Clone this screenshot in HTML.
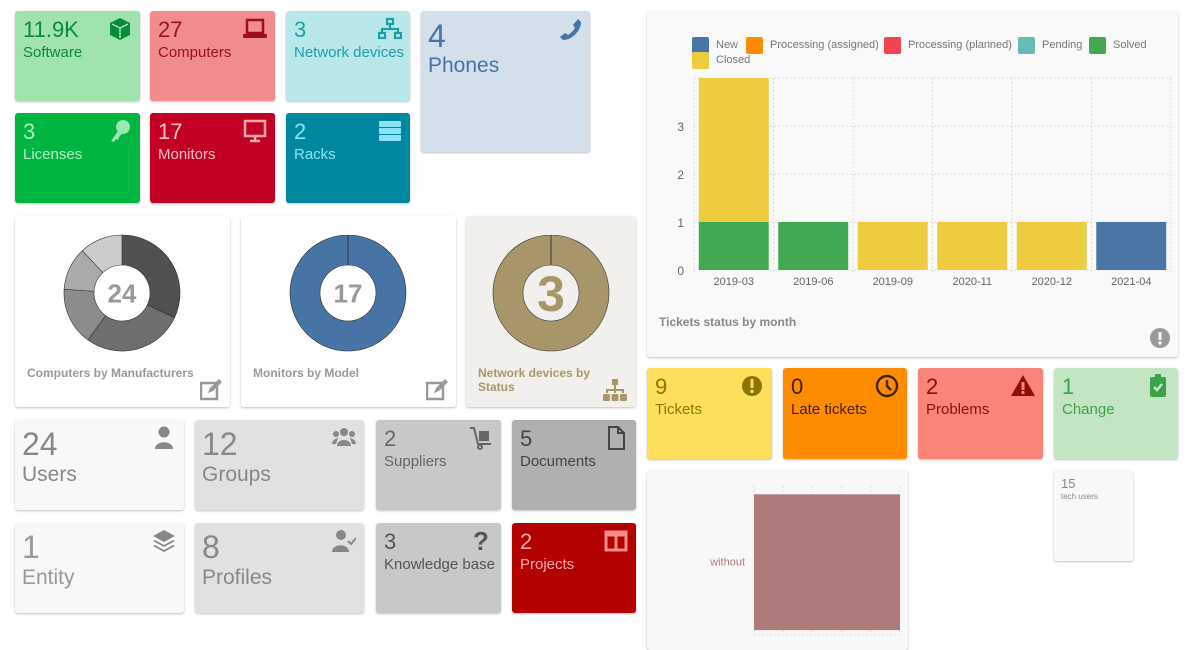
<!DOCTYPE html>
<html><head><meta charset="utf-8">
<style>
body{margin:0;width:1202px;height:636px;background:#fff;font-family:"Liberation Sans",Arial,sans-serif;position:relative;overflow:hidden}
.c{position:absolute;border-radius:3px;box-shadow:0 1px 2px rgba(0,0,0,.25);box-sizing:border-box;overflow:hidden}
.n{position:absolute;left:8px;top:6px;font-size:22px;line-height:26px}
.l{position:absolute;left:8px;top:33px;font-size:15px;line-height:18px}
.bn{position:absolute;left:7px;top:6px;font-size:32px;line-height:36px}
.bl{position:absolute;left:7px;top:43px;font-size:21px;line-height:24px}
.ic{position:absolute;right:8px;top:6px;width:24px;height:24px}
.dt{position:absolute;left:12px;font-size:12px;font-weight:bold;line-height:14px}
</style></head><body>
<!-- top tiles -->
<div class="c" style="left:15px;top:11px;width:125px;height:90px;background:#a1e3ae;color:#0b8a39">
<div class="n">11.9K</div><div class="l">Software</div>
<svg class="ic" viewBox="0 0 24 24"><path d="M12 1 22 6v12l-10 5-10-5V6z" fill="#0b8a39"/><path d="M4 7l8 4 8-4M12 11v10" stroke="#a1e3ae" stroke-width="1.5" fill="none"/></svg></div>
<div class="c" style="left:150px;top:11px;width:125px;height:90px;background:#f08c8c;color:#9e0e1e">
<div class="n">27</div><div class="l">Computers</div>
<svg class="ic" viewBox="0 0 24 24"><rect x="4" y="3" width="16" height="13" fill="none" stroke="#9e0e1e" stroke-width="2.5"/><rect x="0" y="17" width="24" height="4" rx="1" fill="#9e0e1e"/></svg></div>
<div class="c" style="left:286px;top:11px;width:124px;height:90px;background:#b8e8ea;color:#1e9ea7">
<div class="n">3</div><div class="l">Network devices</div>
<svg class="ic" viewBox="0 0 24 24" fill="none" stroke="#1e9ea7" stroke-width="2.2"><rect x="9" y="2" width="6" height="5"/><rect x="1" y="16" width="6" height="5"/><rect x="17" y="16" width="6" height="5"/><path d="M12 7v5M4 16v-4h16v4"/></svg></div>
<div class="c" style="left:421px;top:11px;width:169px;height:141px;background:#d3dfeb;color:#4773a5">
<div class="bn" style="font-size:32px;top:7px">4</div><div class="bl" style="top:43px">Phones</div>
<svg class="ic" viewBox="0 0 24 24"><path d="M20 2l3 3c0 9-9 18-18 18l-3-3 5-4 3 2c3-2 5-4 7-7l-2-3z" fill="#4773a5"/></svg></div>
<div class="c" style="left:15px;top:113px;width:125px;height:90px;background:#00b640;color:#b3f0c5">
<div class="n">3</div><div class="l">Licenses</div>
<svg class="ic" viewBox="0 0 24 24"><circle cx="15" cy="8" r="7" fill="#9be8b3"/><path d="M10 12 3 22l3 1 2-3 2 1 1-3 3-3z" fill="#9be8b3"/></svg></div>
<div class="c" style="left:150px;top:113px;width:125px;height:90px;background:#c10023;color:#f8c0c8">
<div class="n">17</div><div class="l">Monitors</div>
<svg class="ic" viewBox="0 0 24 24" fill="none" stroke="#f4a6b2" stroke-width="2.5"><rect x="2" y="2" width="20" height="15"/><path d="M12 17v4M7 22h10"/></svg></div>
<div class="c" style="left:286px;top:113px;width:124px;height:90px;background:#0088a1;color:#8ae3f5">
<div class="n">2</div><div class="l">Racks</div>
<svg class="ic" viewBox="0 0 24 24" fill="#8ae3f5"><rect x="1" y="2" width="22" height="6" rx="1"/><rect x="1" y="9" width="22" height="6" rx="1"/><rect x="1" y="16" width="22" height="6" rx="1"/></svg></div>

<!-- donut cards -->
<div class="c" style="left:15px;top:216px;width:215px;height:191px;background:#fff">
<svg width="215" height="191" id="d1"></svg>
<div class="dt" style="top:150px;color:#999">Computers by Manufacturers</div>
<svg style="position:absolute;right:8px;bottom:6px" width="22" height="22" viewBox="0 0 22 22"><rect x="1" y="4" width="16" height="16" fill="none" stroke="#999" stroke-width="2.5"/><path d="M8 14l2-5 9-9 3 3-9 9z" fill="#999"/></svg></div>
<div class="c" style="left:241px;top:216px;width:215px;height:191px;background:#fff">
<svg width="215" height="191" id="d2"></svg>
<div class="dt" style="top:150px;color:#999">Monitors by Model</div>
<svg style="position:absolute;right:8px;bottom:6px" width="22" height="22" viewBox="0 0 22 22"><rect x="1" y="4" width="16" height="16" fill="none" stroke="#999" stroke-width="2.5"/><path d="M8 14l2-5 9-9 3 3-9 9z" fill="#999"/></svg></div>
<div class="c" style="left:466px;top:216px;width:170px;height:191px;background:#f2f0ec">
<svg width="170" height="191" id="d3"></svg>
<div class="dt" style="top:150px;color:#a8966b">Network devices by<br>Status</div>
<svg style="position:absolute;right:8px;bottom:6px" width="26" height="22" viewBox="0 0 26 22" fill="#a8966b"><rect x="10" y="0" width="6" height="6"/><path d="M12 6h2v4h8v4h-2v-2H14v2h-2v-2H6v2H4v-4h8z"/><rect x="1" y="15" width="7" height="7" rx="1"/><rect x="9.5" y="15" width="7" height="7" rx="1"/><rect x="18" y="15" width="7" height="7" rx="1"/></svg></div>

<!-- bottom-left tiles -->
<div class="c" style="left:15px;top:420px;width:169px;height:90px;background:#f8f8f8;color:#888">
<div class="bn">24</div><div class="bl">Users</div>
<svg class="ic" viewBox="0 0 24 24" fill="#888"><circle cx="12" cy="6" r="5.5"/><path d="M3 23c0-9 18-9 18 0z"/></svg></div>
<div class="c" style="left:195px;top:420px;width:169px;height:90px;background:#e1e1e1;color:#888">
<div class="bn">12</div><div class="bl">Groups</div>
<svg class="ic" viewBox="0 0 24 24" fill="#888"><circle cx="12" cy="6" r="4"/><circle cx="4" cy="8" r="3"/><circle cx="20" cy="8" r="3"/><path d="M5 20c0-8 14-8 14 0zM0 18c0-5 6-6 6-6l-2 6zM24 18c0-5-6-6-6-6l2 6z"/></svg></div>
<div class="c" style="left:376px;top:420px;width:125px;height:90px;background:#c8c8c8;color:#666">
<div class="n">2</div><div class="l">Suppliers</div>
<svg class="ic" viewBox="0 0 24 24" fill="none" stroke="#666" stroke-width="2"><path d="M1 2h4l4 16h13"/><circle cx="11" cy="21" r="2"/><rect x="11" y="6" width="8" height="8" fill="#666"/></svg></div>
<div class="c" style="left:512px;top:420px;width:124px;height:90px;background:#b0b0b0;color:#444">
<div class="n">5</div><div class="l">Documents</div>
<svg class="ic" viewBox="0 0 24 24" fill="none" stroke="#444" stroke-width="2"><path d="M5 1h9l6 6v16H5z"/><path d="M14 1v6h6"/></svg></div>
<div class="c" style="left:15px;top:523px;width:169px;height:90px;background:#f8f8f8;color:#999">
<div class="bn">1</div><div class="bl">Entity</div>
<svg class="ic" viewBox="0 0 24 24" fill="#888"><path d="M12 1 23 7 12 13 1 7z"/><path d="M3 11l9 5 9-5 2 1-11 6-11-6z"/><path d="M3 16l9 5 9-5 2 1-11 6-11-6z"/></svg></div>
<div class="c" style="left:195px;top:523px;width:169px;height:90px;background:#e1e1e1;color:#888">
<div class="bn">8</div><div class="bl">Profiles</div>
<svg class="ic" viewBox="0 0 24 24" fill="#888"><circle cx="9" cy="6" r="5"/><path d="M0 23c0-9 17-9 17 0z"/><path d="M16 12l3 3 5-6" stroke="#888" stroke-width="2" fill="none"/></svg></div>
<div class="c" style="left:376px;top:523px;width:125px;height:90px;background:#c8c8c8;color:#555">
<div class="n">3</div><div class="l">Knowledge base</div>
<div class="ic" style="font-size:26px;font-weight:bold;color:#555;line-height:24px;text-align:center">?</div></div>
<div class="c" style="left:512px;top:523px;width:124px;height:90px;background:#b30000;color:#f7a8a8">
<div class="n">2</div><div class="l">Projects</div>
<svg class="ic" viewBox="0 0 24 24" fill="none" stroke="#f48c8c" stroke-width="3"><rect x="2" y="3" width="20" height="18"/><path d="M12 3v18M2 6h20"/></svg></div>

<!-- main chart -->
<div class="c" style="left:647px;top:11px;width:531px;height:346px;background:#f9f9f9">
<svg id="chart" width="531" height="346"></svg>
<div style="position:absolute;left:12px;top:304px;font-size:12px;font-weight:bold;color:#888">Tickets status by month</div>
<svg style="position:absolute;left:503px;top:317px" width="20" height="20" viewBox="0 0 20 20"><circle cx="10" cy="10" r="10" fill="#999"/><rect x="8.5" y="4" width="3" height="8" rx="1" fill="#f9f9f9"/><circle cx="10" cy="15" r="1.7" fill="#f9f9f9"/></svg>
</div>

<!-- assistance tiles -->
<div class="c" style="left:647px;top:368px;width:125px;height:91px;background:#fedf5b;color:#8b7500">
<div class="n">9</div><div class="l">Tickets</div>
<svg class="ic" viewBox="0 0 24 24"><circle cx="12" cy="12" r="10" fill="#8b7500"/><rect x="10.5" y="5" width="3" height="9" fill="#fedf5b"/><circle cx="12" cy="17.5" r="1.7" fill="#fedf5b"/></svg></div>
<div class="c" style="left:783px;top:368px;width:124px;height:91px;background:#ff8b00;color:#3d2200">
<div class="n">0</div><div class="l">Late tickets</div>
<svg class="ic" viewBox="0 0 24 24" fill="none" stroke="#3d2200" stroke-width="2.4"><circle cx="12" cy="12" r="10"/><path d="M12 6v6l4 4"/></svg></div>
<div class="c" style="left:918px;top:368px;width:125px;height:91px;background:#f98578;color:#8e0d0d">
<div class="n">2</div><div class="l">Problems</div>
<svg class="ic" viewBox="0 0 24 24"><path d="M12 1 24 22H0z" fill="#8e0d0d"/><rect x="10.5" y="8" width="3" height="8" fill="#f98578"/><circle cx="12" cy="18.5" r="1.6" fill="#f98578"/></svg></div>
<div class="c" style="left:1054px;top:368px;width:124px;height:91px;background:#c4e5c4;color:#3aa34a">
<div class="n">1</div><div class="l">Change</div>
<svg class="ic" viewBox="0 0 24 24"><rect x="4" y="3" width="16" height="20" rx="2" fill="#3aa34a"/><rect x="9" y="0" width="6" height="5" rx="1" fill="#3aa34a"/><path d="M8 13l3 3 5-6" stroke="#c4e5c4" stroke-width="2.5" fill="none"/></svg></div>

<!-- horizontal bar chart -->
<div class="c" style="left:647px;top:470px;width:261px;height:180px;background:#f9f8f8">
<svg id="hchart" width="261" height="180"></svg>
</div>

<div class="c" style="left:1054px;top:470px;width:79px;height:91px;background:#f8f8f8;color:#888">
<div style="position:absolute;left:7px;top:6px;font-size:13px">15</div>
<div style="position:absolute;left:7px;top:22px;font-size:8px">tech users</div></div>

<script>
const NS='http://www.w3.org/2000/svg';
function mk(p,t,a){const e=document.createElementNS(NS,t);for(const k in a)e.setAttribute(k,a[k]);p.appendChild(e);return e;}

// ---- Donuts ----
const compValues=[8,7,4,3,3];
const compColors=['#505050','#6e6e6e','#8c8c8c','#aaaaaa','#cccccc'];
const monValues=[17];
const netValues=[3];
function donut(svg,cx,cy,R,r,vals,cols,label,txtCol,fs){
  const tot=vals.reduce((a,b)=>a+b,0);let a0=-Math.PI/2;
  vals.forEach((v,i)=>{
    const a1=a0+v/tot*2*Math.PI;
    let p;
    if(vals.length===1){
      p=`M${cx} ${cy-R}A${R} ${R} 0 1 1 ${cx-0.01} ${cy-R}L${cx-0.01} ${cy-r}A${r} ${r} 0 1 0 ${cx} ${cy-r}Z`;
    }else{
      const lg=a1-a0>Math.PI?1:0;
      const P=(rad,a)=>[cx+rad*Math.cos(a),cy+rad*Math.sin(a)];
      const [x0,y0]=P(R,a0),[x1,y1]=P(R,a1),[x2,y2]=P(r,a1),[x3,y3]=P(r,a0);
      p=`M${x0} ${y0}A${R} ${R} 0 ${lg} 1 ${x1} ${y1}L${x2} ${y2}A${r} ${r} 0 ${lg} 0 ${x3} ${y3}Z`;
    }
    const e=mk(svg,'path',{d:p,fill:cols[i%cols.length],stroke:'#333','stroke-width':0.6});
    
    
    a0=a1;
  });
  const t=mk(svg,'text',{x:cx,y:cy+fs*0.36,'text-anchor':'middle','font-size':fs,'font-weight':'bold',fill:txtCol,'font-family':'Liberation Sans, sans-serif'});
  t.textContent=label;
  
  
}
donut(document.getElementById('d1'),107,77,58,28,compValues,compColors,'24','#999',26);
donut(document.getElementById('d2'),107,77,58,28,monValues,['#4773a5'],'17','#999',26);
donut(document.getElementById('d3'),85,77,58,28,netValues,['#a8966b'],'3','#a8966b',50);
mk(document.getElementById('d2'),'line',{x1:107,y1:19,x2:107,y2:49,stroke:'#333','stroke-width':0.8});
mk(document.getElementById('d3'),'line',{x1:85,y1:19,x2:85,y2:49,stroke:'#333','stroke-width':0.8});

// ---- Stacked bar chart ----
const months=['2019-03','2019-06','2019-09','2020-11','2020-12','2021-04'];
const seriesNames=['New','Processing (assigned)','Processing (planned)','Pending','Solved','Closed'];
const seriesColors=['#4a75a5','#ff8b00','#ef4452','#69bab4','#42a952','#edcd3f'];
const sNew=[0,0,0,0,0,1];
const sAssigned=[0,0,0,0,0,0];
const sPlanned=[0,0,0,0,0,0];
const sPending=[0,0,0,0,0,0];
const sSolved=[1,1,0,0,0,0];
const sClosed=[3,0,1,1,1,0];
const yTicks=[0,1,2,3];
const stack=[sNew,sAssigned,sPlanned,sPending,sSolved,sClosed];
const ch=document.getElementById('chart');
const L=47,Rr=524,T=67,B=259,yMax=4;
const yS=v=>B-(v/yMax)*(B-T);
const cw=(Rr-L)/months.length;
const xS=i=>L+i*cw;
for(let i=0;i<=months.length;i++){mk(ch,'line',{x1:xS(i),y1:T,x2:xS(i),y2:B+4,stroke:'#ddd','stroke-dasharray':'2,2'});}
[0,1,2,3,4].forEach(v=>mk(ch,'line',{x1:L,y1:yS(v),x2:Rr,y2:yS(v),stroke:'#ddd','stroke-dasharray':'2,2'}));
yTicks.forEach(v=>{const t=mk(ch,'text',{x:37,y:yS(v)+5,'text-anchor':'end','font-size':12,fill:'#666'});t.textContent=v;

});
months.forEach((m,i)=>{const t=mk(ch,'text',{x:xS(i)+cw/2,y:B+15,'text-anchor':'middle','font-size':11,fill:'#666'});t.textContent=m;

});
const bw=cw*0.88;
months.forEach((m,i)=>{
  let base=0;
  [0,4,1,2,3,5].forEach(s=>{
    const v=stack[s][i];if(!v)return;
    const r=mk(ch,'rect',{x:xS(i)+(cw-bw)/2,y:yS(base+v),width:bw,height:yS(base)-yS(base+v),fill:seriesColors[s]});
    
    
    base+=v;
  });
});
const legX=[45,99,237,371,442,45];
const legY=[26,26,26,26,26,41];
seriesNames.forEach((n,i)=>{
  const g=mk(ch,'g',{});
  
  
  mk(g,'rect',{x:legX[i],y:legY[i],width:17,height:17,rx:2,fill:seriesColors[i]});
  const t=mk(g,'text',{x:legX[i]+24,y:legY[i]+11,'font-size':11,fill:'#777'});t.textContent=n;
});

// ---- Horizontal bar chart ----
const hCats=['without'];
const hValues=[1];
const hTicks=[0,0.2,0.4,0.6,0.8,1];
const hc=document.getElementById('hchart');
const hL=107,hR=253,hT=20,hB=163;
const hx=v=>hL+v*(hR-hL);
hTicks.forEach(v=>{mk(hc,'line',{x1:hx(v),y1:hT-4,x2:hx(v),y2:hB,stroke:'#ddd','stroke-dasharray':'2,2'});});
mk(hc,'line',{x1:hL,y1:hB+2,x2:hR,y2:hB+2,stroke:'#ddd','stroke-dasharray':'2,2'});
const bh=(hB-hT)/hCats.length;
hCats.forEach((c,i)=>{
  const r=mk(hc,'rect',{x:hL,y:hT+i*bh+bh*0.03,width:hx(hValues[i])-hL,height:bh*0.95,fill:'#ae7a7a'});
  
  
  const t=mk(hc,'text',{x:hL-9,y:hT+i*bh+bh/2+4,'text-anchor':'end','font-size':11,fill:'#ae7a7a'});t.textContent=c;
  
  
});
</script>
</body></html>
